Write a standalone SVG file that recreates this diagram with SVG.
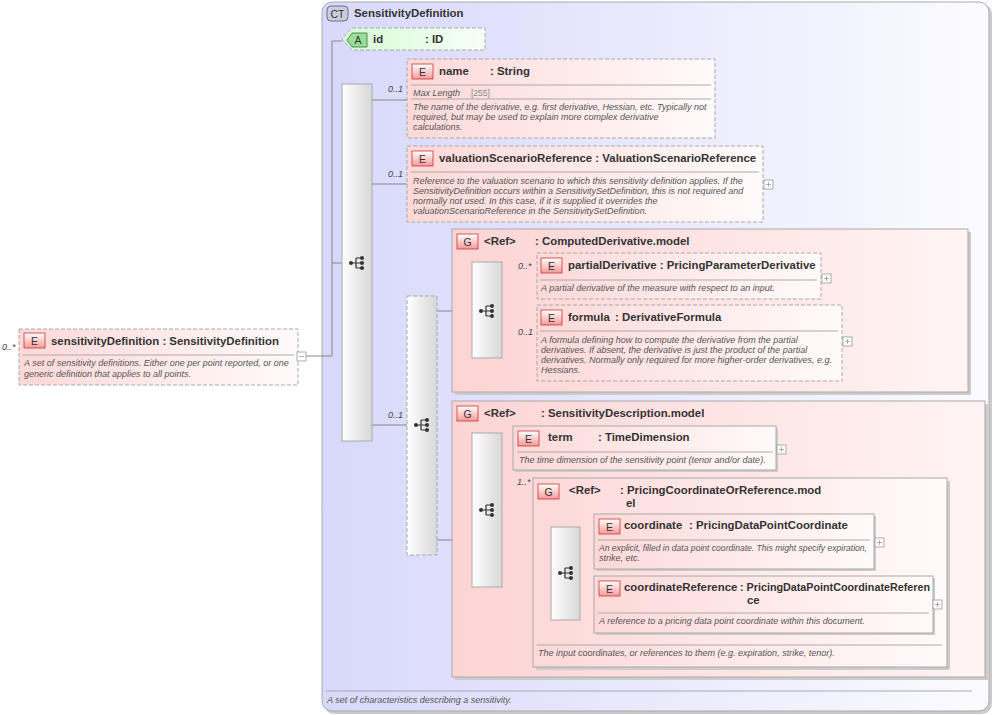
<svg xmlns="http://www.w3.org/2000/svg" width="996" height="715" viewBox="0 0 996 715">
<defs>
<linearGradient id="ct" x1="0" y1="0" x2="1" y2="0"><stop offset="0" stop-color="#d8d8fb"/><stop offset="1" stop-color="#fbfbff"/></linearGradient>
<linearGradient id="el" x1="0" y1="0" x2="1" y2="0"><stop offset="0" stop-color="#fdd8d8"/><stop offset="1" stop-color="#fffafa"/></linearGradient>
<linearGradient id="gr" x1="0" y1="0" x2="1" y2="0"><stop offset="0" stop-color="#fdd4d4"/><stop offset="1" stop-color="#fff4f4"/></linearGradient>
<linearGradient id="at" x1="0" y1="0" x2="1" y2="0"><stop offset="0" stop-color="#d6fbd6"/><stop offset="1" stop-color="#f6fff6"/></linearGradient>
<linearGradient id="sq" x1="0" y1="0" x2="1" y2="0"><stop offset="0" stop-color="#ffffff"/><stop offset="1" stop-color="#d8d8d8"/></linearGradient>
<linearGradient id="bd" x1="0" y1="0" x2="0" y2="1"><stop offset="0" stop-color="#fff"/><stop offset="1" stop-color="#f49a9a"/></linearGradient>
<g id="seqicon"><circle cx="-7" cy="0" r="2" fill="#333"/><path d="M-7,0H-2M-2,-5V5M-2,-5H3M-2,0H3M-2,5H3" stroke="#333" fill="none" stroke-width="1.2"/><circle cx="4" cy="-5" r="2" fill="#333"/><circle cx="4" cy="0" r="2" fill="#333"/><circle cx="4" cy="5" r="2" fill="#333"/></g>
<g id="plus"><rect x="0" y="0" width="9" height="9" fill="#fff" stroke="#999" stroke-width="0.8"/><path d="M2,4.5H7M4.5,2V7" stroke="#999" stroke-width="0.8"/></g>
</defs>
<style>
text{font-family:"Liberation Sans",Arial,sans-serif}
.t{font-size:11.4px;font-weight:bold;fill:#333}
.d{font-size:9px;font-style:italic;fill:#555}
.m{font-size:9px;font-style:italic;fill:#444}
.b{font-size:10.5px;fill:#333}
.el{fill:url(#el);stroke:#aaa;stroke-width:1}
.dash{stroke-dasharray:4,2}
.grp{fill:url(#gr);stroke:#aaa;stroke-width:1}
.seq{fill:url(#sq);stroke:#aaa;stroke-width:1}
.badge{fill:url(#bd);stroke:#c33;stroke-width:0.8}
.sep{stroke:#999;stroke-width:0.8}
.ln{stroke:#888;stroke-width:1;fill:none}
.sh{fill:#ccc}
</style>
<g id="ct">
<rect x="324" y="4" width="668" height="710" rx="10" fill="#ccc"/>
<rect x="322" y="2" width="667" height="709" rx="10" fill="url(#ct)" stroke="#aaa"/>
<rect x="327" y="6" width="21" height="15" rx="4" fill="#ccd" stroke="#557" stroke-width="0.8"/><text x="337.5" y="17.5" text-anchor="middle" class="b">CT</text>
<text x="354" y="17" class="t">SensitivityDefinition</text>
<line x1="326" y1="691" x2="972" y2="691" class="sep"/>
<text x="327" y="703" class="d">A set of characteristics describing a sensitivity.</text>
</g>
<g id="connectors">
<path class="ln" d="M306,356H332V41H342M332,263H342M372,100H407M372,184H407M372,425H407M437,311H472M437,540H472M502,276H537M502,343H537M502,448H513M502,571H551M580,541H594M580,605H594"/>
</g>
<g id="sensitivityDefinition">
<text x="2" y="350" class="m">0..*</text>
<rect x="19" y="329" width="279" height="56" class="el dash"/>
<rect x="24" y="333" width="21" height="15" class="badge"/><text x="34.5" y="345" text-anchor="middle" class="b">E</text>
<text x="51" y="345" class="t">sensitivityDefinition  : SensitivityDefinition</text>
<line x1="23" y1="355" x2="294" y2="355" class="sep"/>
<text x="24" y="366" class="d">A set of sensitivity definitions. Either one per point reported, or one</text>
<text x="24" y="377" class="d">generic definition that applies to all points.</text>
<rect x="297" y="352" width="9" height="9" fill="#fff" stroke="#999" stroke-width="0.8"/><path d="M299,356.5H304" stroke="#999" stroke-width="0.8"/>
</g>
<g id="attr-id">
<path d="M352,28H485V50H352L342,39Z" fill="url(#at)" stroke="#aaa" class="dash"/>
<path d="M352,33H367V47H352L347,40Z" fill="#9d9" stroke="#373" stroke-width="0.8"/><text x="358" y="44" text-anchor="middle" class="b">A</text>
<text x="373" y="43" class="t">id</text><text x="425" y="43" class="t">: ID</text>
</g>
<g id="seq1"><rect x="342" y="84" width="30" height="357" class="seq"/><use href="#seqicon" x="358" y="263"/></g>
<g id="name">
<text x="388" y="92" class="m">0..1</text>
<rect x="407" y="59" width="308" height="79" class="el dash"/>
<rect x="412" y="64" width="21" height="15" class="badge"/><text x="422.5" y="76" text-anchor="middle" class="b">E</text>
<text x="439" y="75" class="t">name</text><text x="490" y="75" class="t">: String</text>
<line x1="411" y1="85" x2="711" y2="85" class="sep"/>
<text x="413" y="96" class="d" fill="#333">Max Length</text><text x="471" y="96" font-size="8.5" fill="#888">[255]</text>
<line x1="411" y1="99" x2="711" y2="99" class="sep"/>
<text x="413" y="110" class="d">The name of the derivative, e.g. first derivative, Hessian, etc. Typically not</text>
<text x="413" y="120" class="d">required, but may be used to explain more complex derivative</text>
<text x="413" y="130" class="d">calculations.</text>
</g>
<g id="valuationScenarioReference">
<text x="388" y="177" class="m">0..1</text>
<rect x="407" y="146" width="356" height="76" class="el dash"/>
<rect x="412" y="151" width="21" height="15" class="badge"/><text x="422.5" y="163" text-anchor="middle" class="b">E</text>
<text x="439" y="162" class="t">valuationScenarioReference  : ValuationScenarioReference</text>
<line x1="411" y1="172" x2="759" y2="172" class="sep"/>
<text x="413" y="184" class="d">Reference to the valuation scenario to which this sensitivity definition applies. If the</text>
<text x="413" y="194" class="d">SensitivityDefinition occurs within a SensitivitySetDefinition, this is not required and</text>
<text x="413" y="204" class="d">normally not used. In this case, if it is supplied it overrides the</text>
<text x="413" y="214" class="d">valuationScenarioReference in the SensitivitySetDefinition.</text>
<use href="#plus" x="764" y="180"/>
</g>
<g id="choice"><text x="388" y="418" class="m">0..1</text><rect x="407" y="296" width="30" height="259" class="seq dash"/><use href="#seqicon" x="423" y="425"/></g>
<g id="computedDerivative">
<rect x="455" y="232" width="516" height="163" class="sh"/>
<rect x="452" y="229" width="516" height="163" class="grp"/>
<rect x="457" y="234" width="21" height="15" class="badge"/><text x="467.5" y="246" text-anchor="middle" class="b">G</text>
<text x="484" y="245" class="t">&lt;Ref&gt;</text><text x="535" y="245" class="t">: ComputedDerivative.model</text>
<rect x="472" y="262" width="30" height="96" class="seq"/><use href="#seqicon" x="488" y="311"/>
</g>
<g id="partialDerivative">
<text x="518" y="269" class="m">0..*</text>
<rect x="537" y="253" width="284" height="46" class="el dash"/>
<rect x="541" y="258" width="21" height="15" class="badge"/><text x="551.5" y="270" text-anchor="middle" class="b">E</text>
<text x="568" y="269" class="t">partialDerivative  : PricingParameterDerivative</text>
<line x1="540" y1="280" x2="817" y2="280" class="sep"/>
<text x="541" y="291" class="d">A partial derivative of the measure with respect to an input.</text>
<use href="#plus" x="822" y="274"/>
</g>
<g id="formula">
<text x="518" y="335" class="m">0..1</text>
<rect x="537" y="305" width="305" height="76" class="el dash"/>
<rect x="541" y="310" width="21" height="15" class="badge"/><text x="551.5" y="322" text-anchor="middle" class="b">E</text>
<text x="568" y="321" class="t">formula</text><text x="615" y="321" class="t">: DerivativeFormula</text>
<line x1="540" y1="331" x2="838" y2="331" class="sep"/>
<text x="541" y="343" class="d">A formula defining how to compute the derivative from the partial</text>
<text x="541" y="353" class="d">derivatives. If absent, the derivative is just the product of the partial</text>
<text x="541" y="363" class="d">derivatives. Normally only required for more higher-order derivatives, e.g.</text>
<text x="541" y="373" class="d">Hessians.</text>
<use href="#plus" x="843" y="337"/>
</g>
<g id="sensitivityDescription">
<rect x="455" y="404" width="533" height="276" class="sh"/>
<rect x="452" y="401" width="533" height="276" class="grp"/>
<rect x="457" y="406" width="21" height="15" class="badge"/><text x="467.5" y="418" text-anchor="middle" class="b">G</text>
<text x="484" y="417" class="t">&lt;Ref&gt;</text><text x="541" y="417" class="t">: SensitivityDescription.model</text>
<rect x="472" y="433" width="30" height="154" class="seq"/><use href="#seqicon" x="488" y="510"/>
</g>
<g id="term">
<rect x="515" y="428" width="263" height="44" class="sh"/>
<rect x="513" y="426" width="263" height="44" class="el"/>
<rect x="518" y="431" width="21" height="15" class="badge"/><text x="528.5" y="443" text-anchor="middle" class="b">E</text>
<text x="548" y="441" class="t">term</text><text x="598" y="441" class="t">: TimeDimension</text>
<line x1="517" y1="452" x2="773" y2="452" class="sep"/>
<text x="519" y="463" class="d">The time dimension of the sensitivity point (tenor and/or date).</text>
<use href="#plus" x="777" y="445"/>
</g>
<g id="pricingCoordinateOrReference">
<text x="517" y="485" class="m" font-style="normal">1..*</text>
<rect x="536" y="481" width="414" height="189" class="sh"/>
<rect x="533" y="478" width="414" height="189" fill="url(#el)" stroke="#aaa"/>
<rect x="538" y="484" width="21" height="15" class="badge"/><text x="548.5" y="496" text-anchor="middle" class="b">G</text>
<text x="569" y="494" class="t">&lt;Ref&gt;</text><text x="620" y="494" class="t">: PricingCoordinateOrReference.mod</text>
<text x="626" y="507" class="t">el</text>
<rect x="551" y="527" width="29" height="93" class="seq"/><use href="#seqicon" x="567" y="573"/>
<line x1="537" y1="645" x2="942" y2="645" class="sep"/>
<text x="538" y="656" class="d">The input coordinates, or references to them (e.g. expiration, strike, tenor).</text>
</g>
<g id="coordinate">
<rect x="596" y="516" width="280" height="55" class="sh"/>
<rect x="594" y="514" width="280" height="55" class="el"/>
<rect x="599" y="519" width="21" height="15" class="badge"/><text x="609.5" y="531" text-anchor="middle" class="b">E</text>
<text x="624" y="529" class="t">coordinate</text><text x="689" y="529" class="t">: PricingDataPointCoordinate</text>
<line x1="598" y1="540" x2="870" y2="540" class="sep"/>
<text x="599" y="551" class="d" textLength="268" lengthAdjust="spacingAndGlyphs">An explicit, filled in data point coordinate. This might specify expiration,</text>
<text x="599" y="561" class="d">strike, etc.</text>
<use href="#plus" x="875" y="538"/>
</g>
<g id="coordinateReference">
<rect x="596" y="578" width="339" height="57" class="sh"/>
<rect x="594" y="576" width="339" height="57" class="el"/>
<rect x="599" y="581" width="21" height="15" class="badge"/><text x="609.5" y="593" text-anchor="middle" class="b">E</text>
<text x="624" y="591" class="t">coordinateReference</text><text x="740" y="591" class="t" textLength="190" lengthAdjust="spacingAndGlyphs">: PricingDataPointCoordinateReferen</text>
<text x="747" y="604" class="t">ce</text>
<line x1="598" y1="613" x2="929" y2="613" class="sep"/>
<text x="599" y="624" class="d">A reference to a pricing data point coordinate within this document.</text>
<use href="#plus" x="933" y="600"/>
</g>
</svg>
